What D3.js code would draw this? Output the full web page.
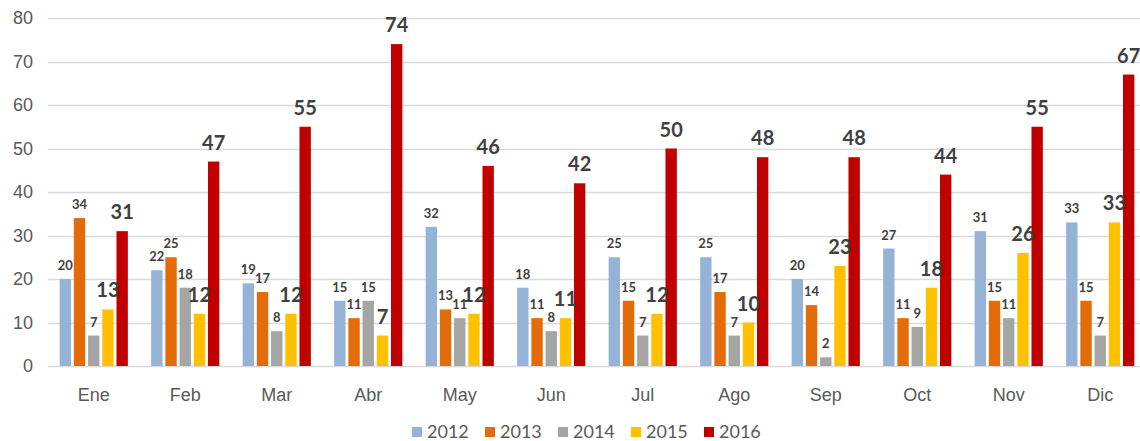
<!DOCTYPE html>
<html>
<head>
<meta charset="utf-8">
<script src="https://cdn.jsdelivr.net/npm/d3@7"></script>
<style>
  html, body { margin: 0; padding: 0; background: #fff; }
  svg { display: block; font-family: Lato, "Open Sans", sans-serif; }
  .grid line { stroke: #d9d9d9; stroke-width: 1.5; }
  .axis text { fill: #595959; font-size: 18px; }
  .lbl { fill: #404040; font-weight: bold; }
  .legend text { fill: #595959; font-size: 18px; }
</style>
</head>
<body>
<svg id="chart" width="1140" height="441"></svg>
<script>
  const months = ["Ene", "Feb", "Mar", "Abr", "May", "Jun", "Jul", "Ago", "Sep", "Oct", "Nov", "Dic"];
  const years = ["2012", "2013", "2014", "2015", "2016"];
  const v2012 = [20, 22, 19, 15, 32, 18, 25, 25, 20, 27, 31, 33];
  const v2013 = [34, 25, 17, 11, 13, 11, 15, 17, 14, 11, 15, 15];
  const v2014 = [7, 18, 8, 15, 11, 8, 7, 7, 2, 9, 11, 7];
  const v2015 = [13, 12, 12, 7, 12, 11, 12, 10, 23, 18, 26, 33];
  const v2016 = [31, 47, 55, 74, 46, 42, 50, 48, 48, 44, 55, 67];
  const yTicks = [0, 10, 20, 30, 40, 50, 60, 70, 80];

  const seriesValues = [v2012, v2013, v2014, v2015, v2016];
  const colors = ["#95b3d7", "#e36c09", "#a5a5a5", "#ffc000", "#c00000"];
  // the last two series get larger labels in the original
  const bigLabel = [false, false, false, true, true];

  const svg = d3.select("#chart");

  const x0 = d3.scaleBand().domain(months).range([48, 1146]).padding(0);
  const x1 = d3.scaleBand().domain(years).range([0, x0.bandwidth()])
    .paddingInner(0.2).paddingOuter(0.82);
  const y = d3.scaleLinear().domain([0, 80]).range([366, 18]);

  // gridlines
  svg.append("g")
    .attr("class", "grid")
    .selectAll("line")
    .data(yTicks)
    .join("line")
    .attr("x1", 48)
    .attr("x2", 1140)
    .attr("y1", d => Math.round(y(d)) + 0.5)
    .attr("y2", d => Math.round(y(d)) + 0.5);

  // y axis labels
  svg.append("g")
    .attr("class", "axis")
    .attr("transform", "translate(33,0)")
    .call(d3.axisLeft(y).tickValues(yTicks).tickSize(0).tickPadding(0))
    .call(g => g.select(".domain").remove());

  // x axis labels
  svg.append("g")
    .attr("class", "axis")
    .attr("transform", "translate(0,366)")
    .call(d3.axisBottom(x0).tickSize(0).tickPadding(22))
    .call(g => g.select(".domain").remove());

  const rows = months.map((m, i) => ({
    month: m,
    vals: years.map((yr, s) => ({ year: yr, s, value: seriesValues[s][i] }))
  }));

  const groups = svg.append("g")
    .selectAll("g")
    .data(rows)
    .join("g")
    .attr("transform", d => `translate(${x0(d.month)},0)`);

  groups.selectAll("rect")
    .data(d => d.vals)
    .join("rect")
    .attr("x", d => x1(d.year))
    .attr("y", d => y(d.value))
    .attr("width", x1.bandwidth())
    .attr("height", d => y(0) - y(d.value))
    .attr("fill", d => colors[d.s]);

  groups.selectAll("text")
    .data(d => d.vals)
    .join("text")
    .attr("class", "lbl")
    .attr("x", d => x1(d.year) + x1.bandwidth() / 2)
    .attr("y", d => y(d.value) - (bigLabel[d.s] ? 12 : 9))
    .attr("text-anchor", "middle")
    .style("font-size", d => bigLabel[d.s] ? "20px" : "13px")
    .text(d => d.value);

  // legend
  const legendX = d3.scalePoint().domain(years).range([412, 704]);
  const legend = svg.append("g")
    .attr("class", "legend")
    .selectAll("g")
    .data(years)
    .join("g")
    .attr("transform", d => `translate(${legendX(d)},432)`);

  legend.append("rect")
    .attr("x", 0)
    .attr("y", -5)
    .attr("width", 10)
    .attr("height", 10)
    .attr("fill", (d, i) => colors[i]);

  legend.append("text")
    .attr("x", 15)
    .attr("y", 6)
    .text(d => d);
</script>
</body>
</html>
